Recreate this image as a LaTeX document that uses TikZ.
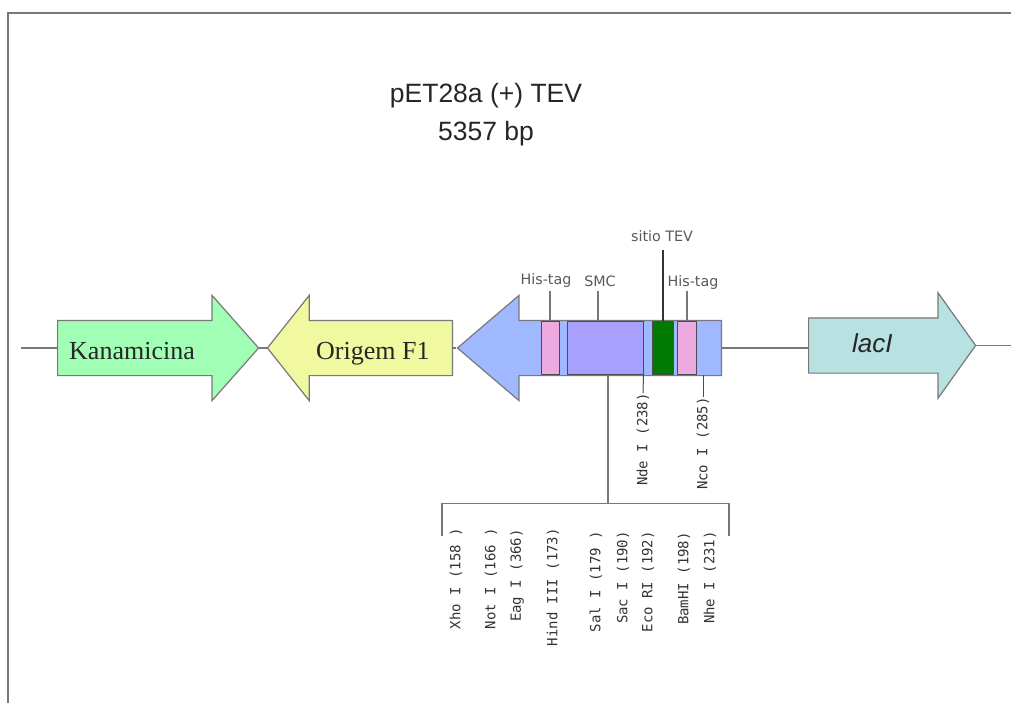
\documentclass[tikz,border=0pt]{standalone}
\usepackage{fontspec}
\setmainfont{Liberation Sans}
\newfontfamily\serifface{Liberation Serif}
\newfontfamily\tagface{DejaVu Sans}
\newfontfamily\siteface{DejaVu Sans Mono}
\usetikzlibrary{shapes.arrows}
\definecolor{KanClr}{RGB}{160,255,180}
\definecolor{OriClr}{RGB}{240,248,160}
\definecolor{VecClr}{RGB}{160,184,255}
\definecolor{TagClr}{RGB}{236,170,224}
\definecolor{SmcClr}{RGB}{170,160,255}
\definecolor{TevClr}{RGB}{0,122,0}
\definecolor{LacClr}{RGB}{184,226,226}
\definecolor{LineClr}{RGB}{120,120,120}
\tikzset{
  geneArrow/.style={single arrow,draw=LineClr,line width=1.2pt,inner xsep=0pt,inner ysep=27pt,
    single arrow head extend=25pt,minimum height=#1,anchor=tail},
  siteBox/.style={draw=black!70,line width=1pt,inner sep=0pt},
  siteLabel/.style={rotate=90,anchor=east,font=\siteface\fontsize{14}{14}\selectfont,text=black!80,inner sep=0pt},
  tagLabel/.style={font=\tagface\fontsize{14.3}{14.3}\selectfont,text=black!65,inner sep=0pt},
  geneLabel/.style={font=\serifface\fontsize{26}{26}\selectfont,text=black!85,inner sep=0pt,anchor=base west},
  linkLine/.style={LineClr,line width=1.2pt},
}
\begin{document}
\begin{tikzpicture}[x=1pt,y=-1pt]
\useasboundingbox (0,0) rectangle (1011,703);

% frame
\draw[LineClr,line width=1.3pt] (8,703) -- (8,13) -- (1011,13);

% title
\node[font=\fontsize{26.5}{38}\selectfont,align=center,text=black!85,inner sep=0pt] (title) at (486,115) {pET28a (+) TEV\\5357 bp};

% genes
\coordinate (left) at (21,348);
\coordinate (right) at (1011,345.5);
\node[geneArrow=201pt,fill=KanClr,single arrow tip angle=97] (kan) at (57,348) {};
\node[geneArrow=185pt,fill=OriClr,single arrow tip angle=103,shape border rotate=180] (ori) at (453,348) {};
\node[geneArrow=264pt,fill=VecClr,single arrow tip angle=81,shape border rotate=180] (vec) at (722,348) {};
\node[geneArrow=167pt,fill=LacClr,single arrow tip angle=109] (lac) at (808,345.5) {};

\draw[linkLine] (left) -- (kan.tail);
\draw[linkLine] (kan.tip) -- (ori.tip);
\draw[linkLine] (ori.tail) -- (vec.tip);
\draw[linkLine] (vec.tail) -- (vec.tail -| lac.tail);
\draw[linkLine] (lac.tip) -- (right);

\node[geneLabel] (kanname) at (69,359) {Kanamicina};
\node[geneLabel] (oriname) at (316,359) {Origem F1};
\node[font=\itshape\fontsize{26}{26}\selectfont,text=black!85,inner sep=0pt,anchor=base west] (lacname) at (852,352) {lacI};

% sites in the vector
\node[siteBox,fill=TagClr,minimum width=18pt,minimum height=53pt] (tagA) at (550,348) {};
\node[siteBox,fill=SmcClr,minimum width=76pt,minimum height=53pt] (smc) at (605,348) {};
\node[siteBox,fill=TevClr,minimum width=21pt,minimum height=53pt] (tev) at (662.5,348) {};
\node[siteBox,fill=TagClr,minimum width=19pt,minimum height=53pt] (tagB) at (686.5,348) {};

\node[tagLabel] (tagAname) at (546,281) {His-tag};
\node[tagLabel] (smcname) at (600,281) {SMC};
\node[tagLabel] (tevname) at (662,236) {sitio TEV};
\node[tagLabel] (tagBname) at (693,283) {His-tag};

\coordinate (tagAtop) at (550,291);
\coordinate (smctop) at (598,291);
\coordinate (tevtop) at (663,250);
\coordinate (tagBtop) at (687,291);
\draw[linkLine] (tagAtop) -- (tagAtop |- tagA.north);
\draw[linkLine] (smctop) -- (smctop |- smc.north);
\draw[black!80,line width=1.4pt] (tevtop) -- (tevtop |- tev.north);
\draw[linkLine] (tagBtop) -- (tagBtop |- tagB.north);

% cut sites
\node[siteLabel] (nde) at (643,393) {Nde I (238)};
\node[siteLabel] (nco) at (703,397) {Nco I (285)};
\draw[black!70,line width=1pt] (smc.south east) -- (nde.east);
\coordinate (ncotop) at (703,375);
\draw[black!70,line width=1pt] (ncotop) -- (nco.east);

% bracket
\coordinate (smcfoot) at (608,375);
\coordinate (brmid) at (608,503.5);
\coordinate (brleft) at (442,503.5);
\coordinate (brright) at (729,503.5);
\draw[linkLine] (smcfoot) -- (brmid);
\draw[linkLine] (442,536) -- (brleft) -- (brright) -- (729,536);

\foreach \px/\py/\site/\nam in {456/528/Xho I (158 )/xho,491/528/Not I (166 )/nott,517/529/Eag I (366)/eag,
  553/528/Hind III (173)/hind,596/531/Sal I (179 )/sal,623/531/Sac I (190)/sac,648/531/Eco RI (192)/eco,
  684/532/BamHI (198)/bam,710/531/Nhe I (231)/nhe}
  \node[siteLabel] (\nam) at (\px,\py) {\site};

\end{tikzpicture}
\end{document}
